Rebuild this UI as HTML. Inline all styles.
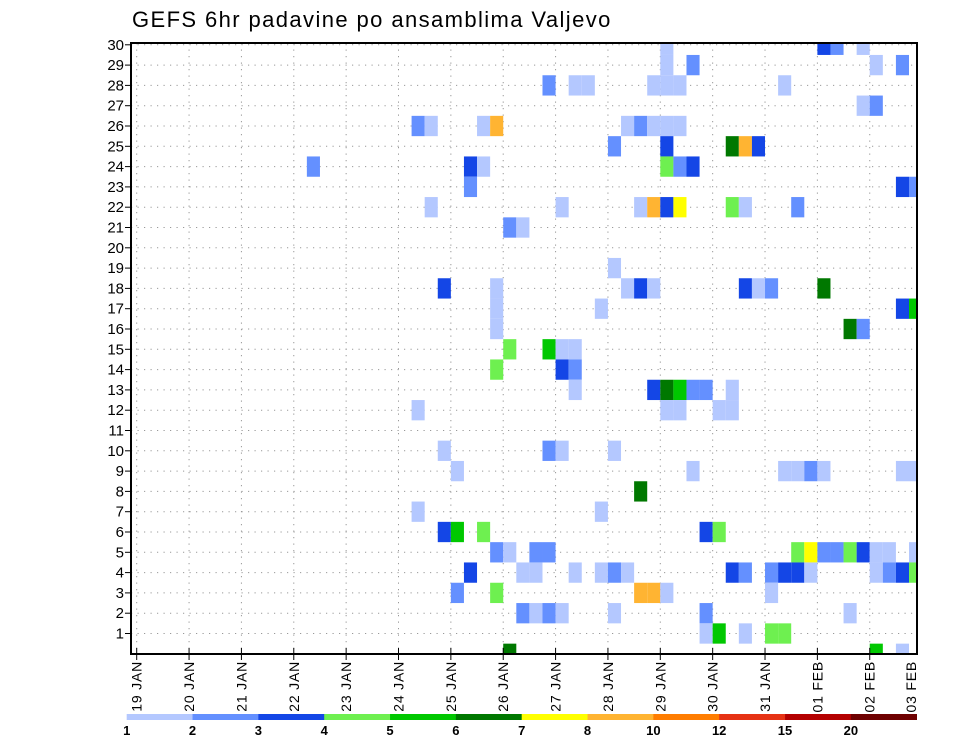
<!DOCTYPE html>
<html><head><meta charset="utf-8"><style>
html,body{margin:0;padding:0;background:#fff;}
svg{display:block;font-family:"Liberation Sans",sans-serif;}
</style></head><body>
<svg id="chart" width="960" height="742" viewBox="0 0 960 742">
<defs><clipPath id="plotclip"><rect x="131" y="43" width="786" height="611"/></clipPath></defs>
<text x="132" y="27" font-size="22" letter-spacing="1.4" fill="#000">GEFS 6hr padavine po ansamblima Valjevo</text>
<g id="grid"></g>
<g id="cells" clip-path="url(#plotclip)"></g>
<rect x="131" y="43" width="786" height="611" fill="none" stroke="#000" stroke-width="2"/>
<g id="yaxis"></g>
<g id="xaxis"></g>
<g id="legend"></g>
</svg>
<script>
const dayLabels = ["19 JAN","20 JAN","21 JAN","22 JAN","23 JAN","24 JAN","25 JAN","26 JAN","27 JAN","28 JAN","29 JAN","30 JAN","31 JAN","01 FEB","02 FEB","03 FEB"];
const rowLabels = [1,2,3,4,5,6,7,8,9,10,11,12,13,14,15,16,17,18,19,20,21,22,23,24,25,26,27,28,29,30];
const levelColors = ["#b4c8ff","#6490ff","#1446e6","#6ef050","#00c800","#007800","#ffff00","#ffb432","#ff7d00","#e63214","#b40000","#6e0000"];
const levelLabels = ["1","2","3","4","5","6","7","8","10","12","15","20"];
const cellTime = [40,52,53,55, 40,42,56,58, 31,33,34,39,40,41,49, 55,56, 21,22,26,27,37,38,39,40,41, 36,40,45,46,47, 13,25,26,40,41,42, 25,58,59, 22,32,38,39,40,41,45,46,50, 28,29, 36, 23,27,37,38,39,46,47,48,52, 27,35,58,59, 27,54,55, 28,31,32,33, 27,32,33, 33,39,40,41,42,43,45, 21,40,41,44,45, 23,31,32,36, 24,42,49,50,51,52,58,59, 38, 21,35, 23,24,26,43,44, 27,28,30,31,50,51,52,53,54,55,56,57,59, 25,29,30,33,35,36,37,45,46,48,49,50,51,56,57,58,59, 24,27,38,39,40,48, 29,30,31,32,36,43,54, 43,44,46,48,49, 28,56,58];
const cellRow = [30,30,30,30, 29,29,29,29, 28,28,28,28,28,28,28, 27,27, 26,26,26,26,26,26,26,26,26, 25,25,25,25,25, 24,24,24,24,24,24, 23,23,23, 22,22,22,22,22,22,22,22,22, 21,21, 19, 18,18,18,18,18,18,18,18,18, 17,17,17,17, 16,16,16, 15,15,15,15, 14,14,14, 13,13,13,13,13,13,13, 12,12,12,12,12, 10,10,10,10, 9,9,9,9,9,9,9,9, 8, 7,7, 6,6,6,6,6, 5,5,5,5,5,5,5,5,5,5,5,5,5, 4,4,4,4,4,4,4,4,4,4,4,4,4,4,4,4,4, 3,3,3,3,3,3, 2,2,2,2,2,2,2, 1,1,1,1,1, 0,0,0];
const cellLevel = [1,3,2,1, 1,2,1,2, 2,1,1,1,1,1,1, 1,2, 2,1,1,8,1,2,1,1,1, 2,3,6,8,3, 2,3,1,4,2,3, 2,3,2, 1,1,1,8,3,7,4,1,2, 2,1, 1, 3,1,1,3,1,3,1,2,6, 1,1,3,5, 1,6,2, 4,5,1,1, 4,3,2, 1,3,6,5,2,2,1, 1,1,1,1,1, 1,2,1,1, 1,1,1,1,2,1,1,1, 6, 1,1, 3,5,4,3,4, 2,1,2,2,4,7,2,2,4,3,1,1,1, 3,1,1,1,1,2,1,3,2,2,3,3,1,1,2,3,4, 2,4,8,8,1,1, 2,1,2,1,1,2,1, 1,5,1,4,4, 6,5,1];

const NS = "http://www.w3.org/2000/svg";
const X0 = 136.7, DAY = 52.36, CW = DAY/4;
const Y1 = 633.5, RH = 20.3;
const xScale = t => X0 + t*CW;
const yScale = r => Y1 - (r-1)*RH;
function mk(tag, attrs){const e=document.createElementNS(NS,tag);for(const k in attrs)e.setAttribute(k,attrs[k]);return e;}

const grid = document.getElementById('grid');
rowLabels.forEach(r=>{
  const ln = mk('line',{x1:131,x2:917,y1:yScale(r),y2:yScale(r),stroke:'#999','stroke-width':1,'stroke-dasharray':'1.2 5.3'});
  
  
  grid.appendChild(ln);
});
for(let d=0; d<15; d++){
  const ln = mk('line',{x1:X0+d*DAY,x2:X0+d*DAY,y1:43,y2:654,stroke:'#999','stroke-width':1,'stroke-dasharray':'1.2 5.3'});
  
  
  grid.appendChild(ln);
}

const cells = document.getElementById('cells');
for(let k=0;k<cellTime.length;k++){
  const x = xScale(cellTime[k]), y = yScale(cellRow[k]) - RH/2;
  const rc = mk('rect',{x:x.toFixed(2),y:y.toFixed(2),width:CW.toFixed(2),height:RH,fill:levelColors[cellLevel[k]-1]});
  
  
  cells.appendChild(rc);
}

const yax = document.getElementById('yaxis');
rowLabels.forEach(r=>{
  const y = yScale(r);
  const tk = mk('line',{x1:125,x2:131,y1:y,y2:y,stroke:'#000','stroke-width':1});
  
  
  yax.appendChild(tk);
  const t = mk('text',{x:124,y:y+5,'text-anchor':'end','font-size':15,fill:'#000'});
  t.textContent = r;
  
  
  yax.appendChild(t);
});

const xax = document.getElementById('xaxis');
dayLabels.forEach((lab,d)=>{
  let x = X0 + d*DAY;
  if(d===15) x = 911;
  if(d<15){
    const tk = mk('line',{x1:x,x2:x,y1:648,y2:660,stroke:'#000','stroke-width':1});
    
    
    xax.appendChild(tk);
  }
  const t = mk('text',{x:0,y:0,'text-anchor':'end','font-size':14,'letter-spacing':'0.8',fill:'#000',transform:`translate(${x+5},661) rotate(-90)`});
  t.textContent = lab;
  
  
  xax.appendChild(t);
});

const leg = document.getElementById('legend');
const LX0 = 126.7, LW = (916.7-126.7)/levelColors.length;
levelColors.forEach((c,k)=>{
  const rc = mk('rect',{x:LX0+k*LW,y:714,width:LW+0.3,height:6,fill:c});
  
  
  leg.appendChild(rc);
});
levelLabels.forEach((l,k)=>{
  const t = mk('text',{x:LX0+k*LW,y:735,'text-anchor':'middle','font-size':13,'font-weight':'bold',fill:'#000'});
  t.textContent = l;
  
  
  leg.appendChild(t);
});
</script>
</body></html>
